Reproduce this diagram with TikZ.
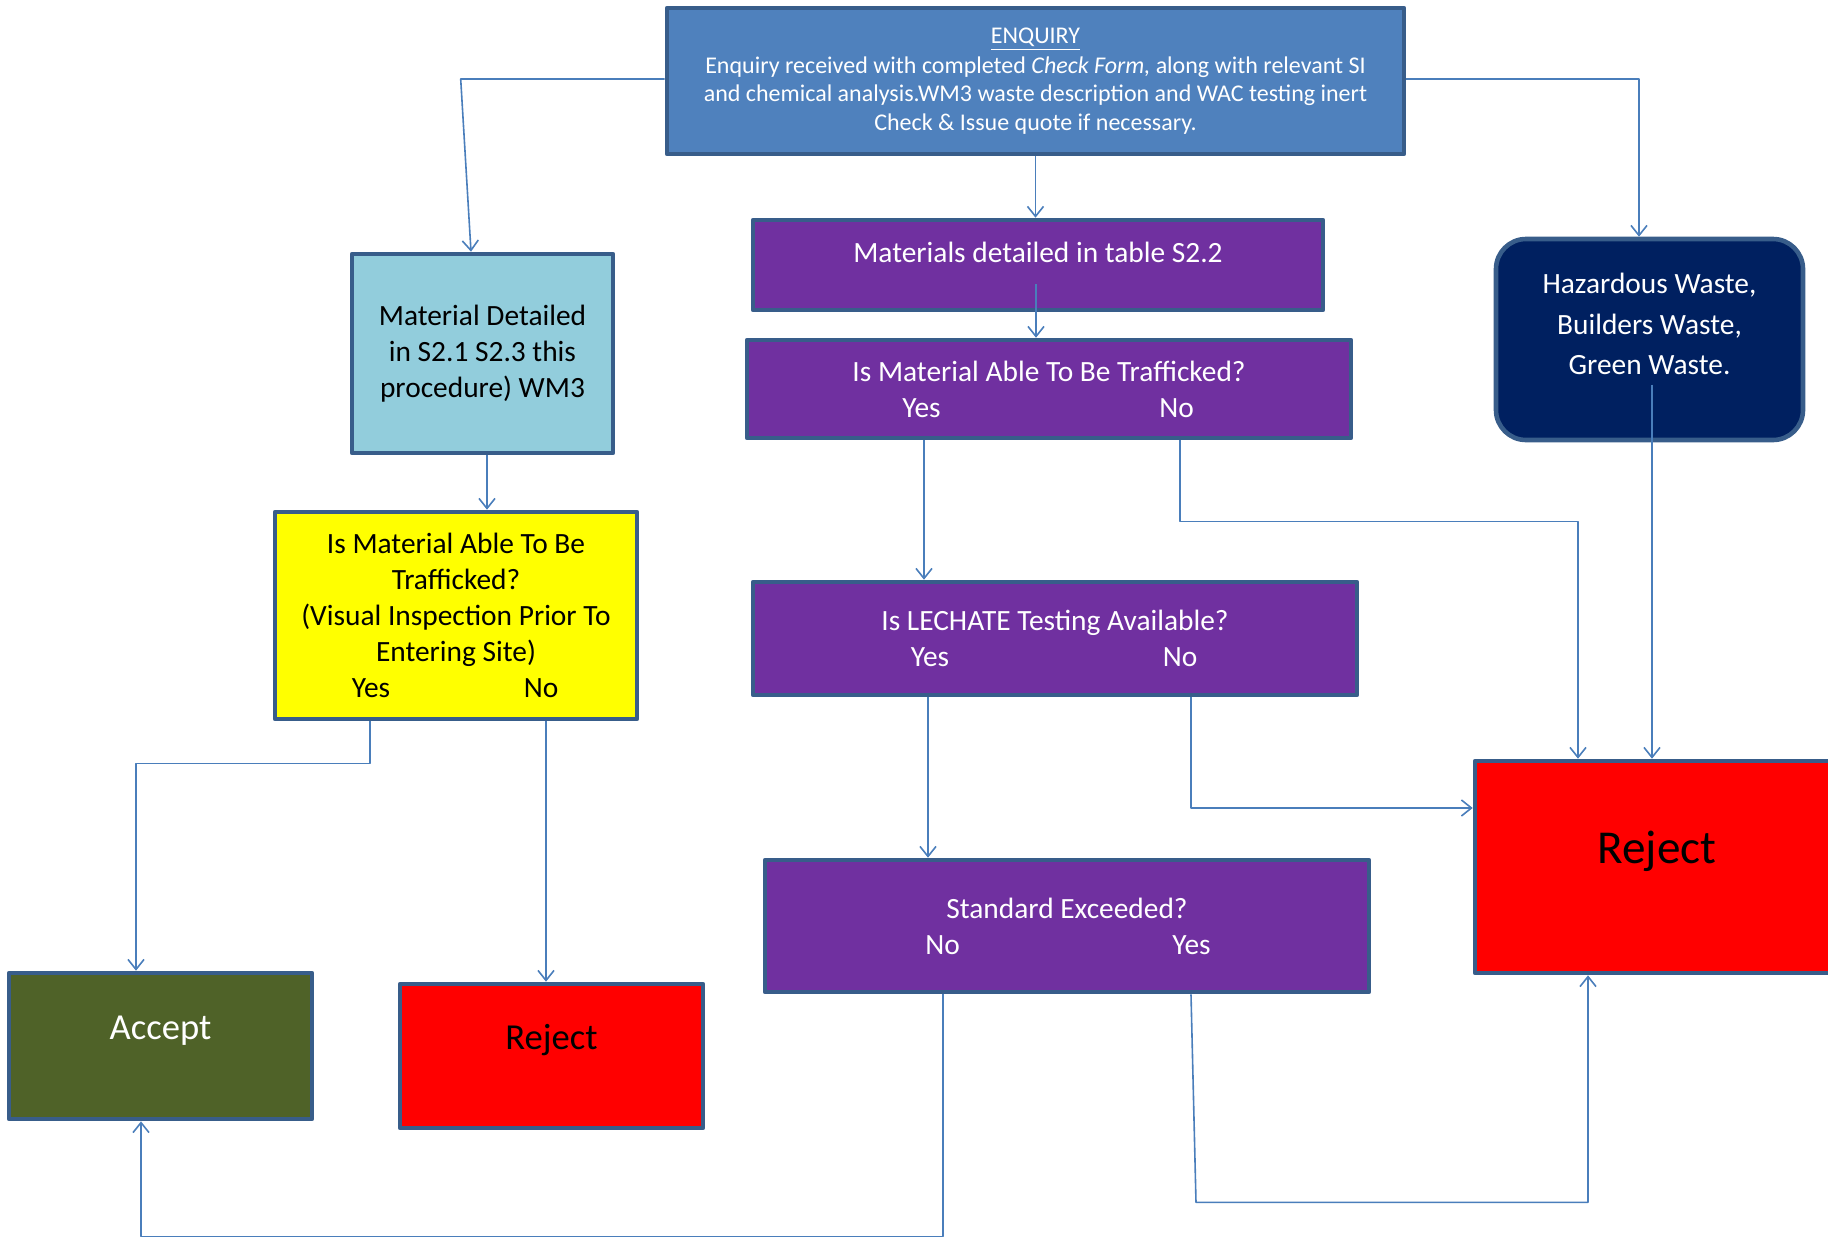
\documentclass[tikz,border=0pt]{standalone}
\usepackage{fontspec}
\setmainfont{Carlito}
\usetikzlibrary{arrows.meta}
\definecolor{enqblue}{HTML}{4F81BD}
\definecolor{boxline}{HTML}{385D8A}
\definecolor{flow}{HTML}{4A7EBB}
\definecolor{purp}{HTML}{7030A0}
\definecolor{skyblue}{HTML}{92CDDC}
\definecolor{darknavy}{HTML}{002060}
\definecolor{acceptgreen}{HTML}{4F6228}
\definecolor{rejred}{HTML}{FF0000}
\definecolor{checkyellow}{HTML}{FFFF00}
\newcommand{\yesno}[3]{\makebox[0pt]{#1}\hspace{#3}\makebox[0pt]{#2}}
\begin{document}
\begin{tikzpicture}[x=0.5pt, y=-0.5pt, line join=round, >={Straight Barb[length=5pt,width=8pt]},
	box/.style={draw=boxline, line width=2.3pt, inner sep=0pt, align=center, text=white, font=\fontsize{14.7}{18}\selectfont},
	purplebox/.style={box, fill=purp, minimum width=302pt},
	boxtext/.style={align=center, inner sep=0pt},
	link/.style={draw=flow, line width=0.8pt}]
	\useasboundingbox (0,0) rectangle (1828,1238);
	% boxes
	\node[box, fill=enqblue, minimum width=368.5pt, minimum height=73pt, font=\fontsize{12}{14.3}\selectfont] (enq) at (1035.5,81) {\underline{ENQUIRY}\\[0.6pt] Enquiry received with completed \textit{Check Form,} along with relevant SI\\ and chemical analysis.WM3 waste description and WAC testing inert\\ Check \& Issue quote if necessary.};
	\node[purplebox, minimum width=285pt, minimum height=45pt] (s22) at (1038,265) {};
	\node[boxtext, text=white, font=\fontsize{14.7}{18}\selectfont] (s22-t) at ([yshift=6.5pt]s22.center) {Materials detailed in table S2.2};
	\node[purplebox, minimum height=49pt] (traf) at (1049,389) {Is Material Able To Be Trafficked?\\ \yesno{Yes}{No}{127.5pt}};
	\node[purplebox, minimum height=56.5pt] (lech) at (1055,638.5) {Is LECHATE Testing Available?\\ \yesno{Yes}{No}{125pt}};
	\node[purplebox, minimum height=66pt] (std) at (1067,926) {Standard Exceeded?\\ \yesno{No}{Yes}{124.5pt}};
	\node[box, fill=skyblue, text=black, minimum width=130.5pt, minimum height=99.5pt] (wm3) at (482.5,353.5) {Material Detailed\\ in S2.1 S2.3 this\\ procedure) WM3};
	\node[box, fill=checkyellow, text=black, minimum width=181pt, minimum height=103.5pt] (vis) at (456,615.5) {Is Material Able To Be\\ Trafficked?\\ (Visual Inspection Prior To\\ Entering Site)\\ \yesno{Yes}{No}{85pt}};
	\node[box, fill=darknavy, rounded corners=15pt, minimum width=153.5pt, minimum height=100.5pt] (haz) at (1649.5,339.5) {};
	\node[boxtext, text=white, font=\fontsize{14.7}{20.4}\selectfont] (haz-t) at ([yshift=7.75pt]haz.center) {Hazardous Waste,\\ Builders Waste,\\ Green Waste.};
	\node[box, fill=rejred, minimum width=182pt, minimum height=106pt] (rejR) at (1657,867) {};
	\node[boxtext, font=\fontsize{23.6}{28}\selectfont] (rejR-t) at ([yshift=8pt]rejR.center) {Reject};
	\node[box, fill=acceptgreen, minimum width=151.5pt, minimum height=73pt] (acc) at (160.5,1046) {};
	\node[boxtext, text=white, font=\fontsize{18.3}{22}\selectfont] (acc-t) at ([yshift=7.5pt]acc.center) {Accept};
	\node[box, fill=rejred, minimum width=151.5pt, minimum height=72pt] (rejL) at (551.5,1056) {};
	\node[boxtext, font=\fontsize{18.3}{22}\selectfont] (rejL-t) at ([yshift=8pt]rejL.center) {Reject};
	% connector ends
	\coordinate (eW) at ([yshift=1pt]enq.west);
	\coordinate (eE) at ([yshift=1pt]enq.east);
	\coordinate (wmIn) at ([xshift=-5.75pt]wm3.north);
	\coordinate (hzIn) at ([xshift=-5.25pt]haz.north);
	\coordinate (s22Out) at ([xshift=-1pt,yshift=-9.5pt]s22.center);
	\coordinate (tYes) at ([xshift=-62.5pt]traf.south);
	\coordinate (tNo) at ([xshift=65.5pt]traf.south);
	\coordinate (hzOut) at ([xshift=1.25pt,yshift=-22.5pt]haz.center);
	\coordinate (lYes) at ([xshift=-63.5pt]lech.south);
	\coordinate (lNo) at ([xshift=68pt]lech.south);
	\coordinate (sNo) at ([xshift=-62pt]std.south);
	\coordinate (sYes) at ([xshift=62pt]std.south);
	\coordinate (wmOut) at ([xshift=2.25pt]wm3.south);
	\coordinate (vYes) at ([xshift=-43pt]vis.south);
	\coordinate (vNo) at ([xshift=45pt]vis.south);
	\coordinate (rTop) at ([xshift=-39.5pt]rejR.north);
	\coordinate (rLeft) at ([yshift=29.5pt]rejR.west);
	\coordinate (rBot) at ([xshift=-34.5pt]rejR.south);
	\coordinate (aTop) at ([xshift=-12.25pt]acc.north);
	\coordinate (aBot) at ([xshift=-9.75pt]acc.south);
	% connectors
	\draw[link,->] (eW) -- ++(-204,0) -- (wmIn);
	\draw[link,->] (eE) -| (hzIn);
	\draw[link,->] (enq.south) -- (enq.south |- s22.north);
	\draw[link,->] (s22Out) -- (s22Out |- traf.north);
	\draw[link,->] (tYes) -- (tYes |- lech.north);
	\draw[link,->] (tNo) -- ++(0,81) -| (rTop);
	\draw[link,->] (hzOut) -- (hzOut |- rejR.north);
	\draw[link,->] (lYes) -- (lYes |- std.north);
	\draw[link,->] (lNo) |- (rLeft);
	\draw[link,->] (sNo) -- ++(0,242) -| (aBot);
	\draw[link,->] (sYes) -- ++(5,208) -| (rBot);
	\draw[link,->] (wmOut) -- (wmOut |- vis.north);
	\draw[link,->] (vYes) -- ++(0,42) -| (aTop);
	\draw[link,->] (vNo) -- (vNo |- rejL.north);
\end{tikzpicture}
\end{document}
